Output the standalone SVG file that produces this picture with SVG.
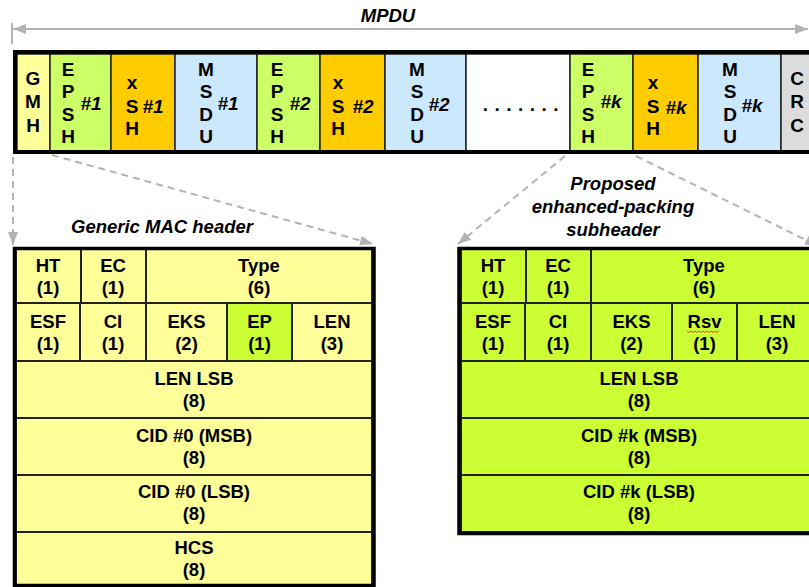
<svg xmlns="http://www.w3.org/2000/svg" width="809" height="587" viewBox="0 0 809 587">
<style>
.t{font-family:"Liberation Sans",Arial,sans-serif;font-weight:bold;font-size:18px;text-anchor:middle;fill:#000}
.bar .t{font-size:19px}
.i{font-style:italic}
.l{font-size:18.5px}
.c{stroke:#222;stroke-width:1.5}
.f{stroke:#222;stroke-width:2}
.y{fill:#ffff99}
.g{fill:#ccff66}
.gg{fill:#ccff33}
.o{fill:#ffcc00}
.bl{fill:#cce8fc}
.frame{fill:none;stroke:#000;stroke-width:4}
.dash{fill:none;stroke:#b3b3b3;stroke-width:2;stroke-dasharray:7 5}
.ar{fill:none;stroke:#b3b3b3;stroke-width:2}
</style>
<defs>
<marker id="ah" markerUnits="userSpaceOnUse" markerWidth="14" markerHeight="10" refX="13" refY="5" orient="auto-start-reverse">
<path d="M0,0 L13,5 L0,10 z" fill="#b3b3b3"/>
</marker>
</defs>
<rect width="809" height="587" fill="#fff"/>

<g id="mpdu-label"><text class="t i l" x="388" y="22">MPDU</text></g>

<g id="connectors">
<line class="ar" x1="12" y1="23" x2="12" y2="44"/>
<line class="ar" x1="13" y1="29" x2="808" y2="29" marker-start="url(#ah)" marker-end="url(#ah)"/>
<line class="dash" x1="13" y1="157" x2="13" y2="245" marker-end="url(#ah)"/>
<line class="dash" x1="52" y1="155" x2="373" y2="244" marker-end="url(#ah)"/>
<line class="dash" x1="565" y1="156" x2="458" y2="244" marker-end="url(#ah)"/>
<line class="dash" x1="636" y1="156" x2="818" y2="246" marker-end="url(#ah)"/>
</g>

<g id="bar" class="bar">
<g id="gmh"><rect class="c y" x="17" y="54" width="33" height="97"/>
<text class="t" x="33" y="85">G</text><text class="t" x="33" y="108">M</text><text class="t" x="33" y="132">H</text></g>
<g id="epsh1"><rect class="c g" x="50" y="54" width="61" height="97"/>
<text class="t" x="68" y="76">E</text><text class="t" x="68" y="98">P</text><text class="t" x="68" y="121">S</text><text class="t" x="68" y="143">H</text>
<text class="t i" x="91" y="110">#1</text></g>
<g id="xsh1"><rect class="c o" x="111" y="54" width="64" height="97"/>
<text class="t" x="132" y="89">x</text><text class="t" x="132" y="113">S</text><text class="t" x="132" y="135">H</text>
<text class="t i" x="153" y="113">#1</text></g>
<g id="msdu1"><rect class="c bl" x="175" y="54" width="82" height="97"/>
<text class="t" x="206" y="76">M</text><text class="t" x="206" y="98">S</text><text class="t" x="206" y="121">D</text><text class="t" x="206" y="143">U</text>
<text class="t i" x="228" y="110">#1</text></g>
<g id="epsh2"><rect class="c g" x="257" y="54" width="63" height="97"/>
<text class="t" x="277" y="76">E</text><text class="t" x="277" y="98">P</text><text class="t" x="277" y="121">S</text><text class="t" x="277" y="143">H</text>
<text class="t i" x="300" y="110">#2</text></g>
<g id="xsh2"><rect class="c o" x="320" y="54" width="65" height="97"/>
<text class="t" x="338" y="89">x</text><text class="t" x="338" y="113">S</text><text class="t" x="338" y="135">H</text>
<text class="t i" x="363" y="113">#2</text></g>
<g id="msdu2"><rect class="c bl" x="385" y="54" width="81" height="97"/>
<text class="t" x="417" y="76">M</text><text class="t" x="417" y="98">S</text><text class="t" x="417" y="121">D</text><text class="t" x="417" y="143">U</text>
<text class="t i" x="439" y="111">#2</text></g>
<g id="dots"><rect class="c" fill="#fff" x="466" y="54" width="104" height="97"/>
<text class="t" x="521" y="111" letter-spacing="0.6">. . . . . . .</text></g>
<g id="epshk"><rect class="c g" x="570" y="54" width="63" height="97"/>
<text class="t" x="588" y="76">E</text><text class="t" x="588" y="98">P</text><text class="t" x="588" y="121">S</text><text class="t" x="588" y="143">H</text>
<text class="t i" x="611" y="108">#k</text></g>
<g id="xshk"><rect class="c o" x="633" y="54" width="65" height="97"/>
<text class="t" x="653" y="89">x</text><text class="t" x="653" y="113">S</text><text class="t" x="653" y="135">H</text>
<text class="t i" x="676" y="114">#k</text></g>
<g id="msduk"><rect class="c bl" x="698" y="54" width="83" height="97"/>
<text class="t" x="730" y="76">M</text><text class="t" x="730" y="98">S</text><text class="t" x="730" y="121">D</text><text class="t" x="730" y="143">U</text>
<text class="t i" x="752" y="112">#k</text></g>
<g id="crc"><rect class="c" fill="#dcdcdc" x="781" y="54" width="40" height="97"/>
<text class="t" x="797" y="85">C</text><text class="t" x="797" y="108">R</text><text class="t" x="797" y="132">C</text></g>
<rect class="frame" x="15" y="52" width="808" height="100"/>
</g>

<g id="gmh-label"><text class="t i l" x="162" y="233">Generic MAC header</text></g>
<g id="epsh-label"><text class="t i l" x="613" y="190">Proposed</text><text class="t i l" x="613" y="213">enhanced-packing</text><text class="t i l" x="613" y="236">subheader</text></g>

<g id="gmh-table">
<g id="g-ht"><rect class="f y" x="16" y="249" width="65" height="54"/><text class="t l" x="48" y="272">HT</text><text class="t l" x="48" y="294">(1)</text></g>
<g id="g-ec"><rect class="f y" x="81" y="249" width="65" height="54"/><text class="t l" x="113" y="272">EC</text><text class="t l" x="113" y="294">(1)</text></g>
<g id="g-type"><rect class="f y" x="146" y="249" width="226" height="54"/><text class="t l" x="259" y="272">Type</text><text class="t l" x="259" y="294">(6)</text></g>
<g id="g-esf"><rect class="f y" x="16" y="303" width="64" height="58"/><text class="t l" x="48" y="328">ESF</text><text class="t l" x="48" y="350">(1)</text></g>
<g id="g-ci"><rect class="f y" x="80" y="303" width="66" height="58"/><text class="t l" x="113" y="328">CI</text><text class="t l" x="113" y="350">(1)</text></g>
<g id="g-eks"><rect class="f y" x="146" y="303" width="81" height="58"/><text class="t l" x="186.5" y="328">EKS</text><text class="t l" x="186.5" y="350">(2)</text></g>
<g id="g-ep"><rect class="f gg" x="227" y="303" width="65" height="58"/><text class="t l" x="259.5" y="328">EP</text><text class="t l" x="259.5" y="350">(1)</text></g>
<g id="g-len"><rect class="f y" x="292" y="303" width="80" height="58"/><text class="t l" x="332" y="328">LEN</text><text class="t l" x="332" y="350">(3)</text></g>
<g id="g-lenlsb"><rect class="f y" x="16" y="361" width="356" height="57"/><text class="t l" x="194" y="385">LEN LSB</text><text class="t l" x="194" y="407">(8)</text></g>
<g id="g-cidmsb"><rect class="f y" x="16" y="418" width="356" height="57"/><text class="t l" x="194" y="442">CID #0 (MSB)</text><text class="t l" x="194" y="464">(8)</text></g>
<g id="g-cidlsb"><rect class="f y" x="16" y="475" width="356" height="57"/><text class="t l" x="194" y="498">CID #0 (LSB)</text><text class="t l" x="194" y="520">(8)</text></g>
<g id="g-hcs"><rect class="f y" x="16" y="532" width="356" height="53"/><text class="t l" x="194" y="554">HCS</text><text class="t l" x="194" y="576">(8)</text></g>
<rect fill="none" stroke="#000" stroke-width="3.5" x="14.5" y="248.5" width="359.5" height="337"/>
</g>

<g id="epsh-table">
<g id="e-ht"><rect class="f gg" x="461" y="249" width="65" height="54"/><text class="t l" x="493" y="272">HT</text><text class="t l" x="493" y="294">(1)</text></g>
<g id="e-ec"><rect class="f gg" x="526" y="249" width="65" height="54"/><text class="t l" x="558" y="272">EC</text><text class="t l" x="558" y="294">(1)</text></g>
<g id="e-type"><rect class="f gg" x="591" y="249" width="226" height="54"/><text class="t l" x="704" y="272">Type</text><text class="t l" x="704" y="294">(6)</text></g>
<g id="e-esf"><rect class="f gg" x="461" y="303" width="64" height="58"/><text class="t l" x="493" y="328">ESF</text><text class="t l" x="493" y="350">(1)</text></g>
<g id="e-ci"><rect class="f gg" x="525" y="303" width="66" height="58"/><text class="t l" x="558" y="328">CI</text><text class="t l" x="558" y="350">(1)</text></g>
<g id="e-eks"><rect class="f gg" x="591" y="303" width="81" height="58"/><text class="t l" x="631.5" y="328">EKS</text><text class="t l" x="631.5" y="350">(2)</text></g>
<g id="e-rsv"><rect class="f gg" x="672" y="303" width="65" height="58"/><text class="t l" x="704.5" y="328">Rsv</text><text class="t l" x="704.5" y="350">(1)</text>
<path d="M687,331 l2,1.5 l2,-1.5 l2,1.5 l2,-1.5 l2,1.5 l2,-1.5 l2,1.5 l2,-1.5 l2,1.5 l2,-1.5 l2,1.5 l2,-1.5 l2,1.5 l2,-1.5 l2,1.5 l2,-1.5" fill="none" stroke="#e02020" stroke-width="0.8"/></g>
<g id="e-len"><rect class="f gg" x="737" y="303" width="80" height="58"/><text class="t l" x="777" y="328">LEN</text><text class="t l" x="777" y="350">(3)</text></g>
<g id="e-lenlsb"><rect class="f gg" x="461" y="361" width="356" height="57"/><text class="t l" x="639" y="385">LEN LSB</text><text class="t l" x="639" y="407">(8)</text></g>
<g id="e-cidmsb"><rect class="f gg" x="461" y="418" width="356" height="57"/><text class="t l" x="639" y="442">CID #k (MSB)</text><text class="t l" x="639" y="464">(8)</text></g>
<g id="e-cidlsb"><rect class="f gg" x="461" y="475" width="356" height="57"/><text class="t l" x="639" y="498">CID #k (LSB)</text><text class="t l" x="639" y="520">(8)</text></g>
<rect fill="none" stroke="#000" stroke-width="3.5" x="459" y="248.5" width="360" height="285"/>
</g>
</svg>
